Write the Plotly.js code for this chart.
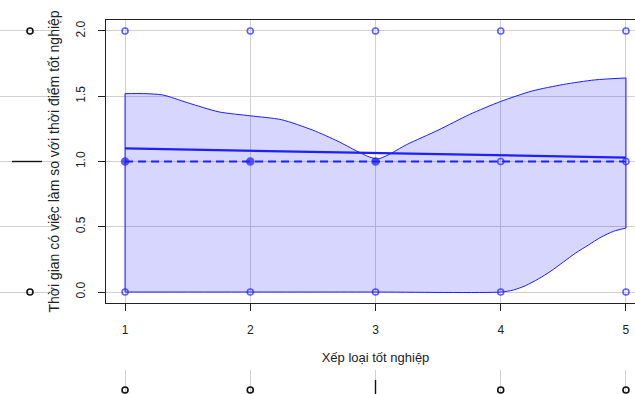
<!DOCTYPE html>
<html><head><meta charset="utf-8">
<script src="https://cdn.plot.ly/plotly-3.0.1.min.js"></script>
<style>html,body{margin:0;padding:0;overflow:hidden;background:#fff;width:635px;height:394px}</style>
</head><body><div id="chart"></div>
<script>
// --- data ---
const xTicks = [1, 2, 3, 4, 5];
const yTicks = [0, 0.5, 1, 1.5, 2];
const yTickLabels = ['0.0', '0.5', '1.0', '1.5', '2.0'];
const pointsX = [1, 2, 3, 4, 5, 1, 2, 3, 4, 5, 1, 2, 3, 4, 5];
const pointsY = [2, 2, 2, 2, 2, 1, 1, 1, 1, 1, 0, 0, 0, 0, 0];
const pointsDense = [false, false, false, false, false, true, true, true, false, false, false, false, false, false, false];
const fitX = [1, 5];
const fitY = [1.10, 1.03];
const smoothX = [1, 5];
const smoothY = [1.0, 1.0];
const upperX = [1, 1.15, 1.3, 1.5, 1.75, 2.0, 2.25, 2.5, 2.7, 2.85, 2.95, 3.02, 3.1, 3.25, 3.5, 3.75, 4.0, 4.25, 4.5, 4.75, 5];
const upperY = [1.52, 1.52, 1.51, 1.45, 1.38, 1.35, 1.32, 1.24, 1.155, 1.08, 1.035, 1.02, 1.05, 1.13, 1.24, 1.36, 1.46, 1.54, 1.59, 1.625, 1.64];
const lowerX = [1, 2, 3, 4, 4.1, 4.2, 4.3, 4.4, 4.5, 4.6, 4.7, 4.8, 4.9, 5];
const lowerY = [0, 0, 0, 0, 0.015, 0.05, 0.10, 0.16, 0.23, 0.30, 0.36, 0.42, 0.465, 0.49];
// marginal boxplots (degenerate: box collapses to the median)
const yBoxOutliers = [0, 2];
const yBoxMedian = 1;
const xBoxOutliers = [1, 2, 4, 5];
const xBoxMedian = 3;
const xTitle = 'Xếp loại tốt nghiệp';
const yTitle = 'Thời gian có việc làm so với thời điểm tốt nghiệp';

// --- layout geometry ---
const W = 660, H = 394;
const blue = 'rgb(30,30,255)';
const nL = lowerX.length - 1, nU = upperX.length - 1;

const traces = [
  {x: lowerX, y: lowerY, type: 'scatter', mode: 'lines', line: {color: blue, width: 1, shape: 'spline', smoothing: 0.7}, hoverinfo: 'skip'},
  {x: upperX, y: upperY, type: 'scatter', mode: 'lines', fill: 'tonexty',
   fillcolor: 'rgba(0,0,255,0.16)', line: {color: blue, width: 1, shape: 'spline', smoothing: 0.7}, hoverinfo: 'skip'},
  {x: [lowerX[0], upperX[0]], y: [lowerY[0], upperY[0]], type: 'scatter', mode: 'lines', line: {color: blue, width: 1}},
  {x: [lowerX[nL], upperX[nU]], y: [lowerY[nL], upperY[nU]], type: 'scatter', mode: 'lines', line: {color: blue, width: 1}},
  {x: fitX, y: fitY, type: 'scatter', mode: 'lines', line: {color: blue, width: 2.2}},
  {x: smoothX, y: smoothY, type: 'scatter', mode: 'lines', line: {color: blue, width: 2.2, dash: '8px,5px'}},
  {x: pointsX, y: pointsY, type: 'scatter', mode: 'markers', cliponaxis: false,
   marker: {symbol: pointsDense.map(d => d ? 'circle' : 'circle-open'), size: pointsDense.map(d => d ? 7 : 6),
            color: blue, line: {color: blue, width: 1.6}}},
  // left marginal box (y)
  {x: yBoxOutliers.map(() => 30), y: yBoxOutliers, xaxis: 'x2', yaxis: 'y', type: 'scatter', mode: 'markers',
   cliponaxis: false, marker: {symbol: 'circle-open', size: 6, color: '#111', line: {width: 1.6, color: '#111'}}},
  {x: [12, 42], y: [yBoxMedian, yBoxMedian], xaxis: 'x2', yaxis: 'y', type: 'scatter', mode: 'lines',
   cliponaxis: false, line: {color: '#111', width: 1.4}},
  // bottom marginal box (x)
  {x: xBoxOutliers, y: xBoxOutliers.map(() => 4), xaxis: 'x', yaxis: 'y3', type: 'scatter', mode: 'markers',
   cliponaxis: false, marker: {symbol: 'circle-open', size: 6, color: '#111', line: {width: 1.6, color: '#111'}}},
  {x: [xBoxMedian, xBoxMedian], y: [0, 14], xaxis: 'x', yaxis: 'y3', type: 'scatter', mode: 'lines',
   cliponaxis: false, line: {color: '#111', width: 1.4}}
];

const layout = {
  width: W, height: H, showlegend: false,
  margin: {l: 0, r: 0, t: 0, b: 0},
  paper_bgcolor: '#fff', plot_bgcolor: '#fff',
  font: {family: 'Liberation Sans, Arial, sans-serif', size: 12, color: '#222'},
  xaxis: {domain: [106 / W, 645 / W], range: [0.848, 5.152], anchor: 'y',
          tickvals: xTicks, ticktext: xTicks.map(String), ticks: 'outside', ticklen: 7, tickcolor: '#222',
          ticklabelstandoff: 8,
          showgrid: true, gridcolor: '#d0d0d0', gridwidth: 1, zeroline: false,
          showline: true, mirror: true, linecolor: '#222', linewidth: 1.3,
          title: {text: xTitle, standoff: 17, font: {size: 13}}, automargin: false},
  yaxis: {domain: [91 / H, 374 / H], range: [-0.084, 2.084], anchor: 'x',
          tickvals: yTicks, ticktext: yTickLabels, tickangle: -90, ticks: 'outside', ticklen: 7, tickcolor: '#222',
          ticklabelstandoff: 8,
          showgrid: true, gridcolor: '#d0d0d0', gridwidth: 1, zeroline: false,
          showline: true, mirror: true, linecolor: '#222', linewidth: 1.3,
          title: {text: yTitle, standoff: 11, font: {size: 14}}, automargin: false},
  xaxis2: {domain: [0, 60 / W], range: [0, 60], anchor: 'y', visible: false},
  yaxis3: {domain: [0, 24 / H], range: [0, 24], anchor: 'x', visible: false}
};

Plotly.newPlot('chart', traces, layout, {displayModeBar: false, staticPlot: true});
</script></body></html>
